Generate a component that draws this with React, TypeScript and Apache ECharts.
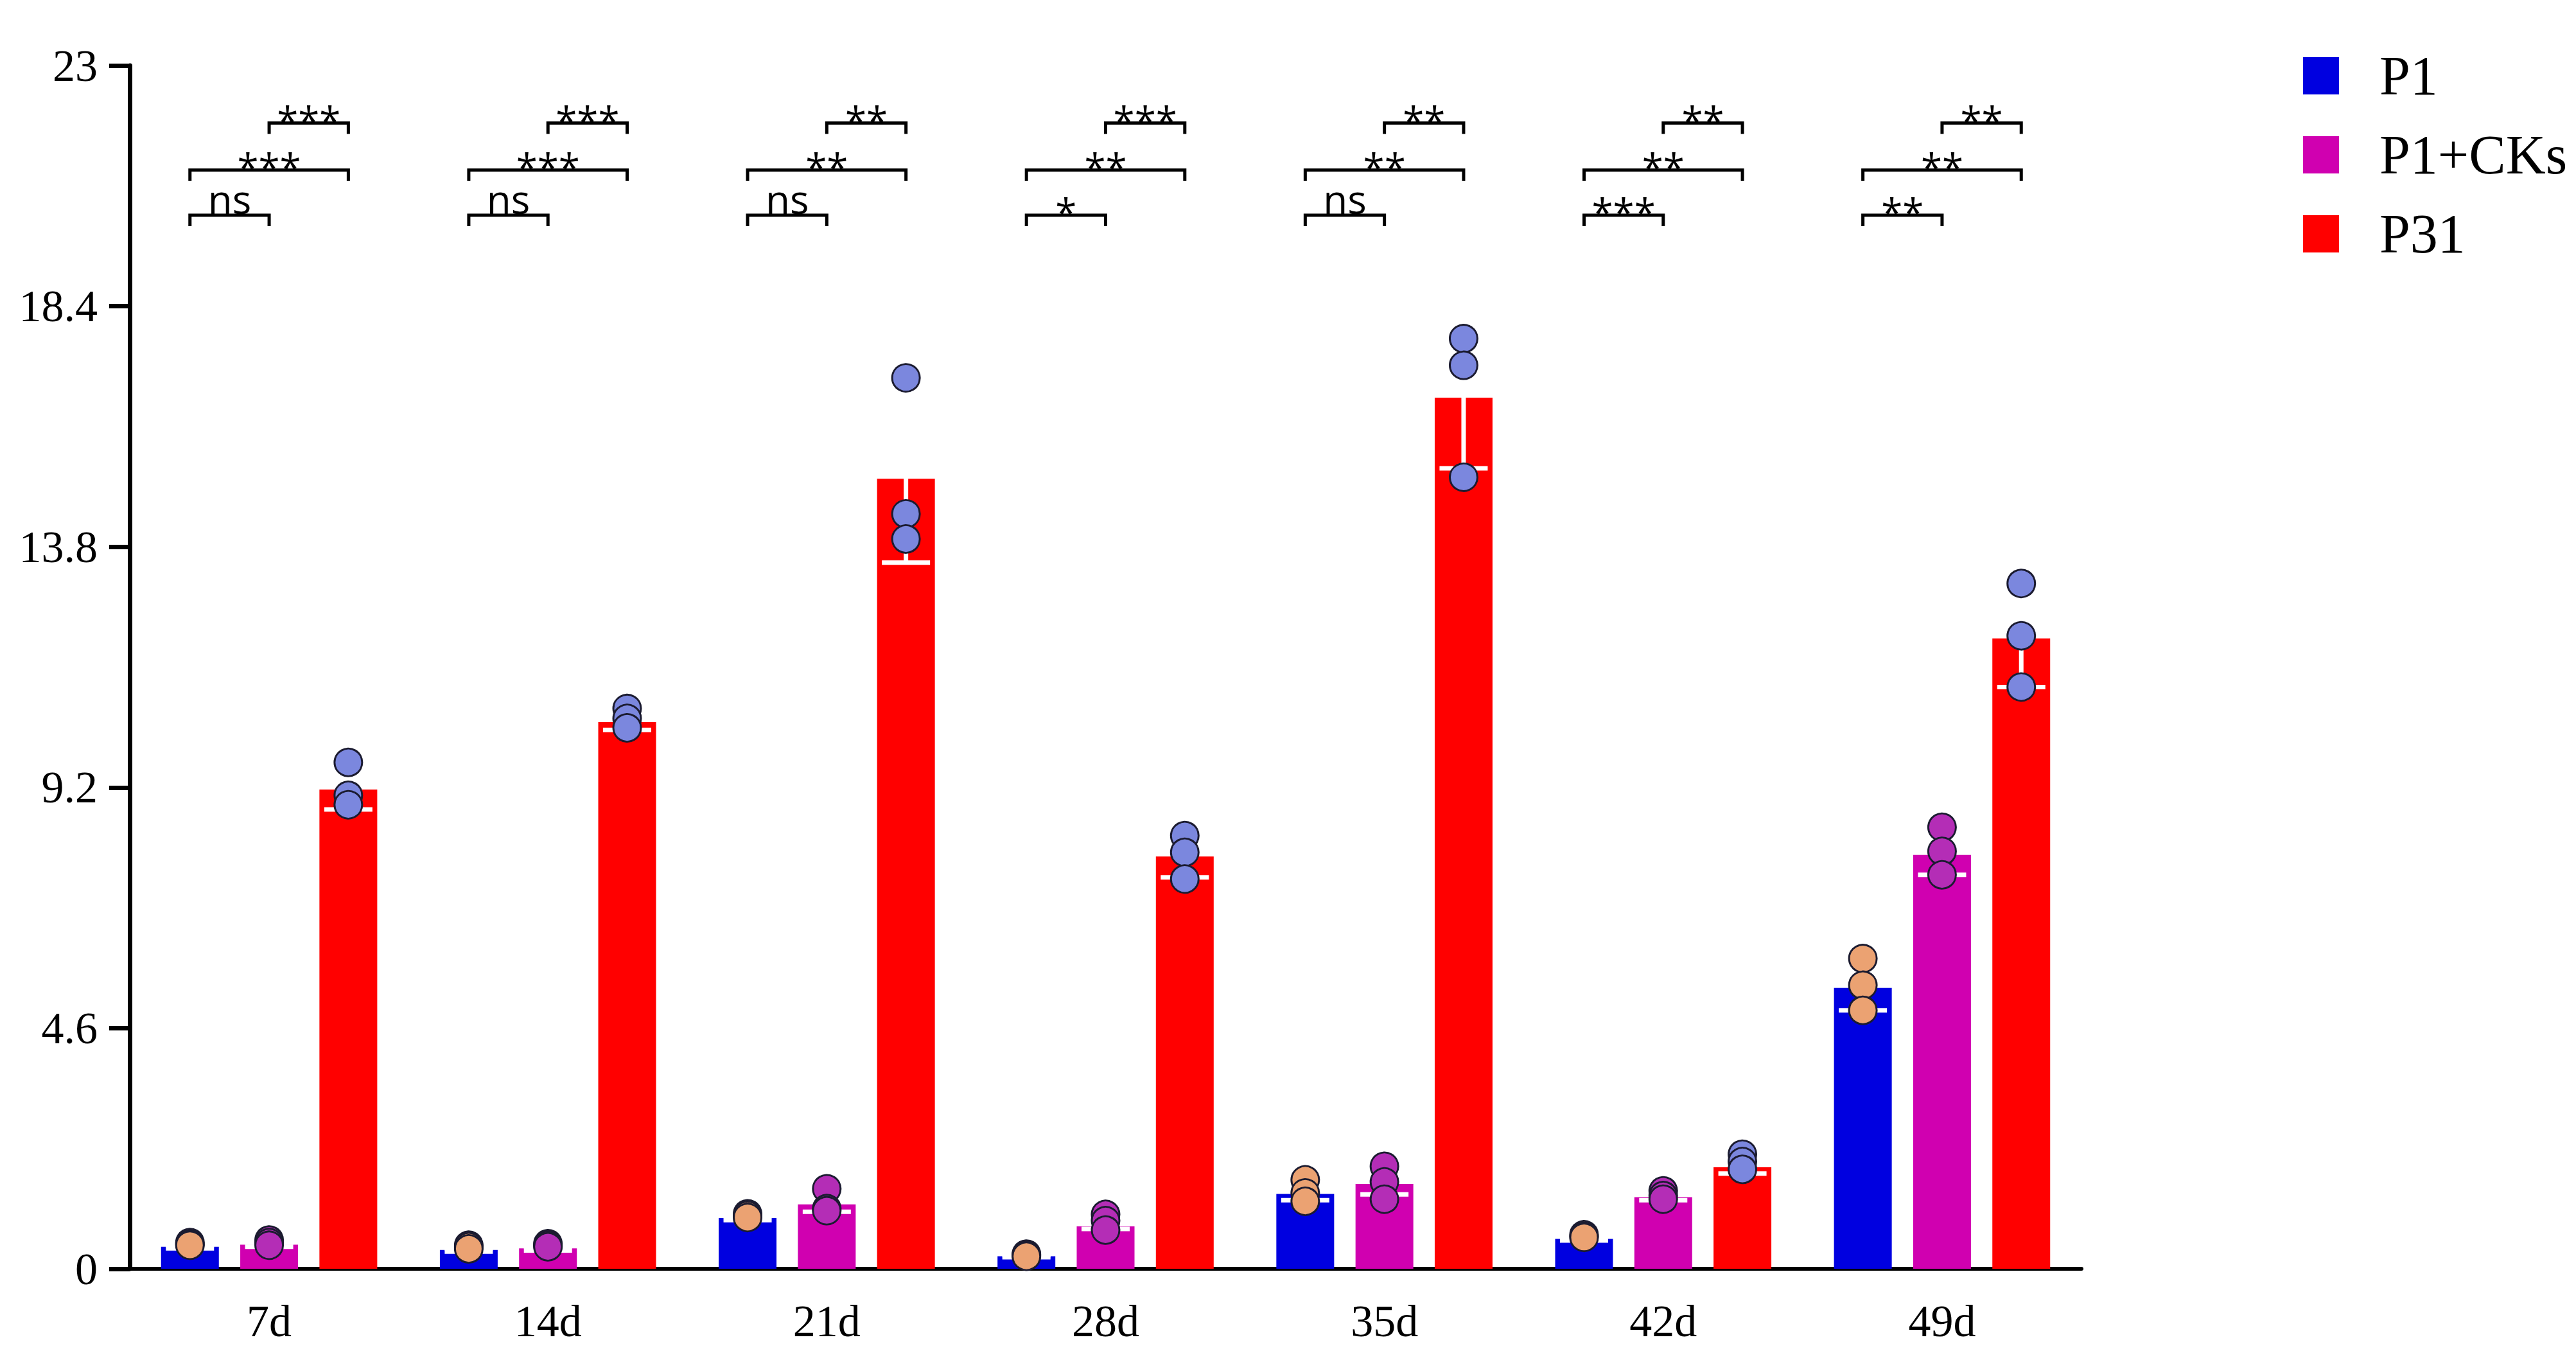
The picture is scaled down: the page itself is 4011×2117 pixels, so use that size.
import React, { useEffect, useRef } from "react";
import * as echarts from "echarts";

// ---------- data ----------
const categories = ["7d", "14d", "21d", "28d", "35d", "42d", "49d"];
const seriesNames = ["P1", "P1+CKs", "P31"];

const p1Mean = [0.42, 0.36, 0.97, 0.24, 1.43, 0.57, 5.37];
const p1Sd = [0.03, 0.03, 0.04, 0.02, 0.12, 0.03, 0.43];
const p1CksMean = [0.46, 0.39, 1.23, 0.81, 1.62, 1.37, 7.91];
const p1CksSd = [0.04, 0.04, 0.14, 0.05, 0.2, 0.06, 0.38];
const p31Mean = [9.16, 10.45, 15.1, 7.88, 16.65, 1.94, 12.05];
const p31Sd = [0.38, 0.15, 1.6, 0.4, 1.35, 0.12, 0.93];

const p1Pts = [
  [0.5, 0.47, 0.45],
  [0.45, 0.42, 0.38],
  [1.05, 1.02, 0.98],
  [0.28, 0.26, 0.24],
  [1.7, 1.45, 1.29],
  [0.65, 0.62, 0.6],
  [5.93, 5.42, 4.94],
];
const p1CksPts = [
  [0.55, 0.5, 0.45],
  [0.48, 0.45, 0.42],
  [1.53, 1.15, 1.11],
  [1.04, 0.92, 0.74],
  [1.96, 1.66, 1.33],
  [1.49, 1.4, 1.33],
  [8.44, 7.98, 7.53],
];
const p31Pts = [
  [9.68, 9.05, 8.87],
  [10.71, 10.52, 10.34],
  [17.03, 14.43, 13.95],
  [8.28, 7.96, 7.45],
  [17.78, 17.27, 15.13],
  [2.19, 2.05, 1.9],
  [13.1, 12.1, 11.12],
];

// significance labels per comparison
const sigP1vsCks = ["ns", "ns", "ns", "*", "ns", "***", "**"];
const sigP1vsP31 = ["***", "***", "**", "**", "**", "**", "**"];
const sigCksvsP31 = ["***", "***", "**", "***", "**", "**", "**"];
// bracket heights (data units)
const bracketLevels = [20.14, 21.0, 21.9];

const yTicks = [0, 4.6, 9.2, 13.8, 18.4, 23];

// ---------- styling ----------
const BAR_COLORS = ["#0000E0", "#D000B0", "#FF0000"];
const DOT_COLORS = ["#EBA272", "#B42DB6", "#7B87DE"];
const BAR_W = 90;
const GAP_RATIO = 0.37;
const STEP = BAR_W * (1 + GAP_RATIO);
const OFFSETS = [-STEP, 0, STEP];

export default function App() {
  const ref = useRef<HTMLDivElement>(null);

  useEffect(() => {
    document.body.style.margin = "0";
    if (!ref.current) return;
    const chart = echarts.init(ref.current, undefined, { renderer: "svg" });

    const means = [p1Mean, p1CksMean, p31Mean];
    const sds = [p1Sd, p1CksSd, p31Sd];
    const pts = [p1Pts, p1CksPts, p31Pts];

    const barSeries = seriesNames.map((name, s) => ({
      name,
      type: "bar",
      data: means[s],
      barWidth: BAR_W,
      barGap: GAP_RATIO * 100 + "%",
      itemStyle: { color: BAR_COLORS[s] },
      z: 2,
    }));

    const errSeries = seriesNames.map((name, s) => ({
      name: name + " err",
      type: "custom",
      z: 3,
      silent: true,
      data: means[s].map((m, i) => [i, m]),
      renderItem: (params: any, api: any) => {
        const i = params.dataIndex;
        const m = means[s][i];
        const sd = sds[s][i];
        const top = api.coord([i, m + sd]);
        const bot = api.coord([i, m - sd]);
        const x = top[0] + OFFSETS[s];
        const st = { stroke: "#ffffff", lineWidth: 7 };
        const hw = 37.5;
        return {
          type: "group",
          children: [
            { type: "line", shape: { x1: x, y1: top[1], x2: x, y2: bot[1] }, style: st },
            { type: "line", shape: { x1: x - hw, y1: bot[1], x2: x + hw, y2: bot[1] }, style: st },
            { type: "line", shape: { x1: x - hw, y1: top[1], x2: x + hw, y2: top[1] }, style: st },
          ],
        };
      },
    }));

    const dotSeries = seriesNames.map((name, s) => ({
      name: name + " points",
      type: "scatter",
      z: 4,
      data: pts[s].flatMap((arr, i) => arr.map((v) => [i, v])),
      symbol: "circle",
      symbolSize: 43,
      symbolOffset: [OFFSETS[s], 0],
      itemStyle: { color: DOT_COLORS[s], borderColor: "#1b1b30", borderWidth: 3, opacity: 1 },
    }));

    const comparisons = [
      { labels: sigP1vsCks, from: 0, to: 1, level: bracketLevels[0] },
      { labels: sigP1vsP31, from: 0, to: 2, level: bracketLevels[1] },
      { labels: sigCksvsP31, from: 1, to: 2, level: bracketLevels[2] },
    ];

    const bracketSeries = comparisons.map((c, k) => ({
      name: "sig" + k,
      type: "custom",
      z: 5,
      silent: true,
      data: categories.map((_, i) => [i, c.level]),
      renderItem: (params: any, api: any) => {
        const i = params.dataIndex;
        const p = api.coord([i, c.level]);
        const x1 = p[0] + OFFSETS[c.from];
        const x2 = p[0] + OFFSETS[c.to];
        const y = p[1];
        const label = c.labels[i];
        const isNs = label === "ns";
        return {
          type: "group",
          children: [
            {
              type: "polyline",
              shape: { points: [[x1, y + 17], [x1, y], [x2, y], [x2, y + 17]] },
              style: { stroke: "#000", lineWidth: 5, fill: "none" },
            },
            {
              type: "text",
              x: (x1 + x2) / 2,
              y: isNs ? y - 26 : y - 5,
              style: {
                text: label,
                fontFamily: "Open Sans",
                fontSize: isNs ? 62 : 60,
                lineHeight: 30,
                fill: "#000",
                align: "center",
                verticalAlign: "middle",
              },
            },
          ],
        };
      },
    }));

    const option: any = {
      animation: false,
      backgroundColor: "#ffffff",
      grid: { left: 202, right: 770, top: 102, bottom: 142, containLabel: false },
      legend: {
        data: seriesNames,
        orient: "vertical",
        left: 3581,
        top: 70,
        icon: "rect",
        itemWidth: 56,
        itemHeight: 58,
        itemGap: 37,
        textStyle: {
          fontFamily: "Liberation Serif",
          fontSize: 86,
          color: "#000",
          padding: [0, 0, 0, 58],
        },
      },
      xAxis: {
        type: "category",
        data: categories,
        axisLine: { lineStyle: { color: "#000", width: 6 } },
        axisTick: { alignWithLabel: true, length: 23, lineStyle: { color: "#000", width: 7 } },
        axisLabel: { fontFamily: "Liberation Serif", fontSize: 70, color: "#000", margin: 46 },
      },
      yAxis: {
        type: "value",
        min: yTicks[0],
        max: yTicks[yTicks.length - 1],
        interval: yTicks[1] - yTicks[0],
        splitLine: { show: false },
        axisLine: { show: true, lineStyle: { color: "#000", width: 7 } },
        axisTick: { show: true, length: 32, lineStyle: { color: "#000", width: 7 } },
        axisLabel: {
          fontFamily: "Liberation Serif",
          fontSize: 70,
          color: "#000",
          margin: 50,
          formatter: (v: number) => String(parseFloat(v.toFixed(1))),
        },
      },
      series: [...barSeries, ...errSeries, ...dotSeries, ...bracketSeries],
    };

    chart.setOption(option);
    return () => chart.dispose();
  }, []);

  return <div ref={ref} style={{ width: "4011px", height: "2117px" }} />;
}
